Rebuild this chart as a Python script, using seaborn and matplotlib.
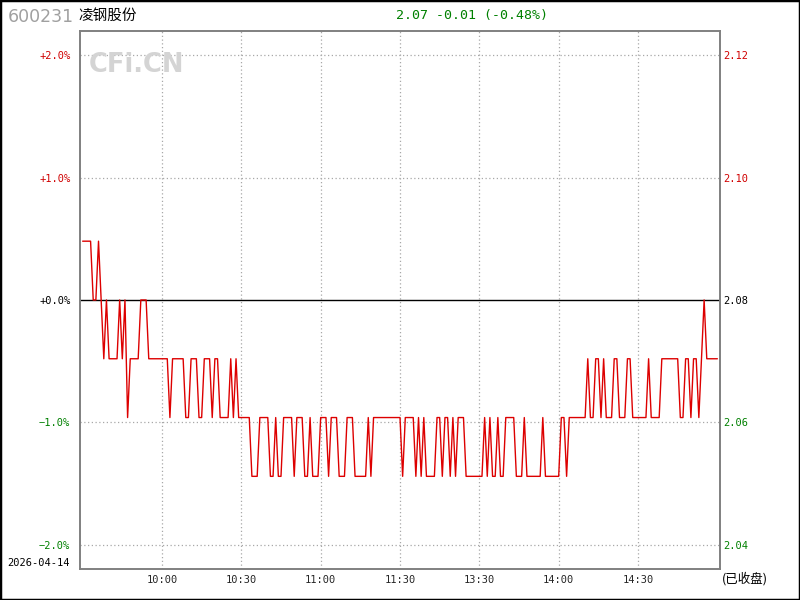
import pandas as pd
import numpy as np
import matplotlib
matplotlib.use('Agg')
import matplotlib.pyplot as plt
import seaborn as sns

# data: price per minute, 9:30 .. 11:30 / 13:00 .. 15:00
prev_close = 2.08
prices = (
    [2.09, 2.09, 2.09, 2.09, 2.08, 2.08, 2.09, 2.08, 2.07, 2.08,
     2.07, 2.07, 2.07, 2.07, 2.08, 2.07, 2.08, 2.06, 2.07, 2.07,
     2.07, 2.07, 2.08, 2.08, 2.08, 2.07, 2.07, 2.07, 2.07, 2.07,
     2.07, 2.07, 2.07, 2.06, 2.07, 2.07, 2.07, 2.07, 2.07, 2.06,
     2.06, 2.07, 2.07, 2.07, 2.06, 2.06, 2.07, 2.07, 2.07, 2.06,
     2.07, 2.07, 2.06, 2.06, 2.06, 2.06, 2.07, 2.06, 2.07, 2.06,
     2.06, 2.06, 2.06, 2.06, 2.05, 2.05, 2.05, 2.06, 2.06, 2.06,
     2.06, 2.05, 2.05, 2.06, 2.05, 2.05, 2.06, 2.06, 2.06, 2.06,
     2.05, 2.06, 2.06, 2.06, 2.05, 2.05, 2.06, 2.05, 2.05, 2.05,
     2.06, 2.06, 2.06, 2.05, 2.06, 2.06, 2.06, 2.05, 2.05, 2.05,
     2.06, 2.06, 2.06, 2.05, 2.05, 2.05, 2.05, 2.05, 2.06, 2.05,
     2.06, 2.06, 2.06, 2.06, 2.06, 2.06, 2.06, 2.06, 2.06, 2.06,
     2.06, 2.05, 2.06, 2.06, 2.06, 2.06, 2.05, 2.06, 2.05, 2.06,
     2.05, 2.05, 2.05, 2.05, 2.06, 2.06, 2.05, 2.06, 2.06, 2.05,
     2.06, 2.05, 2.06, 2.06, 2.06, 2.05, 2.05, 2.05, 2.05, 2.05,
     2.05, 2.05, 2.06, 2.05, 2.06, 2.05, 2.05, 2.06, 2.05, 2.05,
     2.06, 2.06, 2.06, 2.06, 2.05, 2.05, 2.05, 2.06, 2.05, 2.05,
     2.05, 2.05, 2.05, 2.05, 2.06, 2.05, 2.05, 2.05, 2.05, 2.05,
     2.05, 2.06, 2.06, 2.05, 2.06, 2.06, 2.06, 2.06, 2.06, 2.06,
     2.06, 2.07, 2.06, 2.06, 2.07, 2.07, 2.06, 2.07, 2.06, 2.06,
     2.06, 2.07, 2.07, 2.06, 2.06, 2.06, 2.07, 2.07, 2.06, 2.06,
     2.06, 2.06, 2.06, 2.06, 2.07, 2.06, 2.06, 2.06, 2.06, 2.07,
     2.07, 2.07, 2.07, 2.07, 2.07, 2.07, 2.06, 2.06, 2.07, 2.07,
     2.06, 2.07, 2.07, 2.06, 2.07, 2.08, 2.07, 2.07, 2.07, 2.07,
     2.07]
)
time_ticks = [30, 60, 90, 120, 150, 180, 210]
time_labels = ['10:00', '10:30', '11:00', '11:30', '13:30', '14:00', '14:30']
pct_ticks = [2.0, 1.0, 0.0, -1.0, -2.0]
pct_labels = ['+2.0%', '+1.0%', '+0.0%', '\u22121.0%', '\u22122.0%']
price_labels = ['2.12', '2.10', '2.08', '2.06', '2.04']
tick_colors = ['#d00000', '#d00000', 'black', '#008000', '#008000']

df = pd.DataFrame({'minute': np.arange(len(prices)), 'price': prices})
df['pct'] = (df['price'] - prev_close) / prev_close * 100

sns.set_style('white')
plt.rcParams['font.family'] = ['DejaVu Sans', 'Noto Sans CJK SC']
mono = ['DejaVu Sans Mono']

fig = plt.figure(figsize=(8, 6), dpi=100)
ax = fig.add_axes([0.1, 0.0517, 0.8, 0.8967])

ax.axhline(0, color='black', lw=1, zorder=2)
sns.lineplot(data=df, x='minute', y='pct', color='#dd0000', lw=1, ax=ax, zorder=3)

ax.set_xlim(-1, 241)
ax.set_ylim(-2.2, 2.2)
for t in time_ticks:
    ax.axvline(t, color='#a8a8a8', ls=(0, (1, 2)), lw=0.9, zorder=1)
for p in [2.0, 1.0, -1.0, -2.0]:
    ax.axhline(p, color='#a8a8a8', ls=(0, (1, 2)), lw=0.9, zorder=1)

ax.set_xticks(time_ticks)
ax.set_xticklabels(time_labels, fontsize=7.5, family=mono)
ax.set_yticks(pct_ticks)
ax.set_yticklabels(pct_labels, fontsize=7.5, family=mono)
for lbl, c in zip(ax.get_yticklabels(), tick_colors):
    lbl.set_color(c)
ax.tick_params(axis='y', length=0, pad=7)
ax.tick_params(axis='x', length=0, pad=4)
ax.set_xlabel('')
ax.set_ylabel('')
for s in ax.spines.values():
    s.set_color('#808080')
    s.set_linewidth(1.2)

ax2 = ax.twinx()
ax2.set_ylim(ax.get_ylim())
ax2.set_yticks(pct_ticks)
ax2.set_yticklabels(price_labels, fontsize=7.5, family=mono)
for lbl, c in zip(ax2.get_yticklabels(), tick_colors):
    lbl.set_color(c)
ax2.tick_params(length=0, pad=2)
for s in ax2.spines.values():
    s.set_color('#808080')
    s.set_linewidth(1.2)

# header texts
fig.text(8 / 800, 1 - 17 / 600, '600231', fontsize=12.5, color='#a0a0a0', va='center')
fig.text(78 / 800, 1 - 16 / 600, '凌钢股份', fontsize=10.5, color='black', va='center',
         family=['Noto Sans CJK SC'])
fig.text(472 / 800, 1 - 15 / 600, '2.07 -0.01 (-0.48%)', fontsize=9.5, color='#008000',
         va='center', ha='center', family=mono)
fig.text(89 / 800, 1 - 65 / 600, 'CFi.CN', fontsize=18.5, color='#d4d4d4', va='center',
         fontweight='bold')
fig.text(7 / 800, 1 - 563 / 600, '2026-04-14', fontsize=7.5, color='black', va='center',
         family=mono)
fig.text(722 / 800, 1 - 579 / 600, '(已收盘)', fontsize=9, color='black', va='center',
         family=['Noto Sans CJK SC'])

fig.add_artist(plt.Rectangle((0, 0), 1, 1, transform=fig.transFigure, fill=False,
                             ec='black', lw=2.5))

fig.savefig('out.png', dpi=100)
